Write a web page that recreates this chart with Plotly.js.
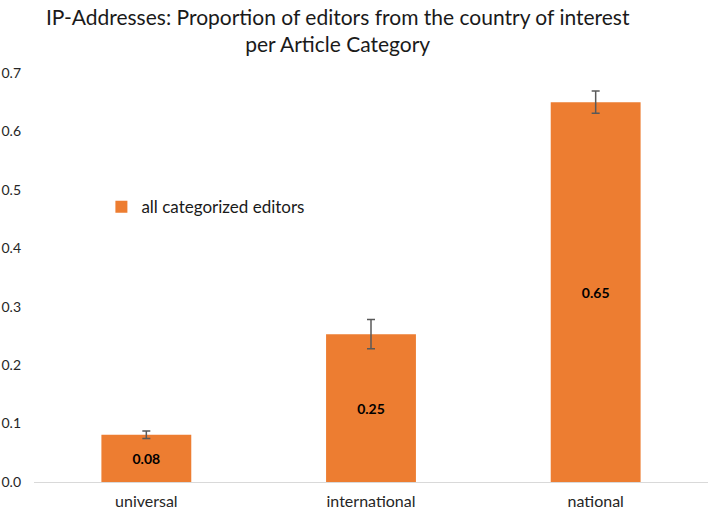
<!DOCTYPE html>
<html>
<head>
<meta charset="utf-8">
<script src="https://cdn.plot.ly/plotly-3.0.1.min.js"></script>
<style>html,body{margin:0;padding:0;background:#fff;}#chart{width:708px;height:514px;}</style>
</head>
<body>
<div id="chart"></div>
<script>
const categories = ["universal", "international", "national"];
const proportions = [0.081, 0.253, 0.650];
const errors = [0.0065, 0.025, 0.019];
const seriesName = "all categorized editors";
const yTicks = [0, 0.1, 0.2, 0.3, 0.4, 0.5, 0.6, 0.7];
const yTickLabels = ["0.0", "0.1", "0.2", "0.3", "0.4", "0.5", "0.6", "0.7"];

const FONT = "Lato, 'Open Sans', sans-serif";

const trace = {
  type: "bar",
  x: categories,
  y: proportions,
  name: seriesName,
  marker: {color: "#ED7D31"},
  error_y: {type: "data", array: errors, visible: true, color: "#595959", thickness: 1.5, width: 4},
  texttemplate: "%{y:.2f}",
  textposition: "inside",
  insidetextanchor: "middle",
  textfont: {family: FONT, size: 14, color: "#000", weight: "bold"},
  showlegend: true,
  hoverinfo: "none"
};

const layout = {
  width: 708, height: 514,
  margin: {l: 34, r: 0, t: 73, b: 32},
  paper_bgcolor: "#fff", plot_bgcolor: "#fff",
  font: {family: FONT, color: "#262626"},
  title: {
    text: "IP-Addresses: Proportion of editors from the country of interest<br>per Article Category",
    font: {family: FONT, size: 21, color: "#1a1a1a"},
    x: 0.477, xref: "container", xanchor: "center",
    y: 0.952, yref: "container", yanchor: "middle"
  },
  bargap: 0.6,
  xaxis: {
    showline: true, linecolor: "#d9d9d9", linewidth: 1,
    showgrid: false, zeroline: false, ticks: "",
    tickfont: {family: FONT, size: 16, color: "#262626"},
    ticklabelstandoff: 5
  },
  yaxis: {
    range: [0, 0.7],
    tickvals: yTicks, ticktext: yTickLabels,
    showgrid: false, zeroline: false, showline: false, ticks: "",
    tickfont: {family: FONT, size: 14, color: "#262626"},
    ticklabelstandoff: 12
  },
  legend: {
    x: 0.1, y: 0.672, xanchor: "left", yanchor: "middle",
    font: {family: FONT, size: 17, color: "#1a1a1a"},
    bgcolor: "rgba(0,0,0,0)",
    itemwidth: 30
  }
};

Plotly.newPlot("chart", [trace], layout, {displayModeBar: false, staticPlot: true});
</script>
</body>
</html>
